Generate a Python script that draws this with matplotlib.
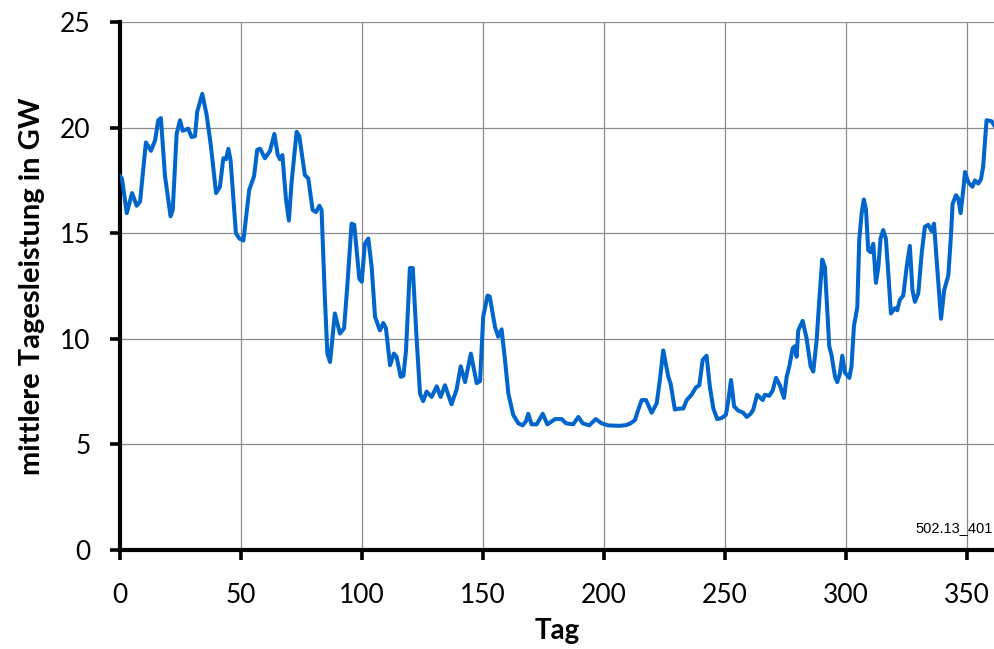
import matplotlib
matplotlib.use("Agg")
import matplotlib.pyplot as plt

# Tag des Jahres und mittlere Tagesleistung in GW
tag = [
    0.0, 0.8, 2.8, 5.0, 6.9, 8.3, 10.7, 12.8, 14.5, 15.8, 16.9, 18.6, 20.9, 21.8,
    23.4, 24.8, 25.9, 28.2, 29.6, 31.0, 31.9, 34.0, 35.8, 37.6, 39.7, 41.3, 42.7,
    43.8, 44.8, 45.7, 47.9, 49.3, 51.0, 53.4, 55.4, 56.7, 57.9, 59.9, 62.0, 63.8,
    65.2, 66.1, 67.1, 68.6, 69.8, 70.9, 73.0, 74.1, 76.4, 77.8, 79.6, 81.0, 82.4,
    83.3, 84.7, 85.7, 86.8, 88.8, 90.9, 92.6, 93.9, 95.7, 96.8, 98.9, 99.9, 101.2,
    102.6, 104.0, 105.4, 107.4, 108.8, 109.9, 111.6, 113.2, 114.3, 116.0, 117.1,
    118.2, 119.8, 121.0, 122.6, 124.0, 125.3, 126.7, 128.8, 130.9, 132.5, 134.3,
    137.0, 139.1, 140.8, 142.6, 145.0, 147.4, 148.8, 150.1, 151.9, 152.8, 155.0,
    156.3, 157.7, 159.1, 160.5, 162.5, 164.6, 166.4, 167.8, 168.7, 170.1, 172.2,
    174.7, 176.6, 179.8, 182.5, 184.3, 187.3, 189.4, 191.2, 193.9, 196.6, 199.0,
    201.8, 206.6, 209.4, 211.0, 212.8, 214.2, 215.6, 217.4, 219.7, 221.8, 223.1,
    224.5, 226.6, 227.5, 229.3, 231.4, 232.8, 234.2, 236.2, 238.0, 239.4, 240.8,
    242.4, 243.8, 245.2, 246.8, 248.6, 250.4, 251.4, 252.5, 253.8, 255.5, 257.6,
    259.0, 260.6, 261.7, 263.3, 265.6, 266.5, 268.3, 269.7, 271.1, 272.7, 274.4,
    275.5, 276.6, 278.0, 279.0, 279.6, 280.3, 282.1, 283.7, 285.4, 286.5, 287.9,
    289.0, 290.2, 291.3, 293.1, 294.0, 295.5, 296.4, 297.5, 298.5, 299.6, 301.4,
    302.3, 303.3, 304.7, 305.5, 306.5, 307.4, 308.3, 309.2, 310.2, 311.3, 312.4,
    313.4, 314.3, 315.4, 316.5, 317.5, 318.6, 320.2, 321.2, 322.3, 323.7, 325.1,
    326.4, 327.5, 328.5, 329.9, 331.3, 332.6, 334.0, 335.4, 336.4, 337.7, 339.3,
    340.6, 342.3, 343.3, 344.1, 345.5, 346.4, 347.4, 348.5, 349.2, 350.6, 352.3,
    353.3, 354.7, 355.8, 356.7, 358.1, 360.2, 361.6,
]
leistung = [
    17.7, 17.6, 15.95, 16.9, 16.3, 16.5, 19.3, 18.9, 19.4, 20.35, 20.45, 17.7, 15.8, 16.1,
    19.7, 20.35, 19.85, 19.95, 19.55, 19.6, 20.75, 21.6, 20.6, 19.1, 16.9, 17.2, 18.55,
    18.5, 19.0, 18.45, 15.0, 14.75, 14.65, 17.05, 17.7, 18.95, 19.0, 18.55, 18.9, 19.7,
    18.7, 18.5, 18.7, 16.6, 15.6, 17.4, 19.8, 19.6, 17.75, 17.6, 16.1, 16.0, 16.3,
    16.1, 11.85, 9.3, 8.9, 11.2, 10.25, 10.5, 12.45, 15.45, 15.4, 12.85, 12.7, 14.5,
    14.75, 13.4, 11.05, 10.4, 10.75, 10.5, 8.75, 9.3, 9.15, 8.2, 8.25,
    9.45, 13.35, 13.35, 9.95, 7.4, 7.05, 7.5, 7.25, 7.75, 7.25, 7.8,
    6.9, 7.6, 8.7, 7.95, 9.3, 7.9, 8.0, 11.05, 12.05, 12.0, 10.55,
    10.1, 10.45, 9.0, 7.4, 6.4, 6.0, 5.9, 6.1, 6.45, 5.95, 5.95,
    6.45, 5.95, 6.2, 6.2, 6.0, 5.95, 6.3, 6.0, 5.9, 6.2, 6.0,
    5.9, 5.88, 5.92, 6.0, 6.15, 6.65, 7.1, 7.1, 6.5, 6.95, 8.05,
    9.45, 8.2, 7.9, 6.65, 6.7, 6.7, 7.1, 7.35, 7.7, 7.8, 9.0,
    9.2, 7.7, 6.7, 6.2, 6.25, 6.4, 7.1, 8.05, 6.8, 6.6, 6.5,
    6.3, 6.45, 6.65, 7.35, 7.1, 7.35, 7.3, 7.55, 8.15, 7.8, 7.2,
    8.2, 8.7, 9.55, 9.65, 9.15, 10.4, 10.85, 10.05, 8.7, 8.45, 9.95,
    11.85, 13.75, 13.4, 9.65, 9.25, 8.2, 7.95, 8.35, 9.2, 8.4, 8.15,
    8.7, 10.6, 11.5, 14.7, 15.95, 16.6, 16.1, 14.2, 14.1, 14.5, 12.65,
    13.4, 14.75, 15.15, 14.75, 13.1, 11.2, 11.45, 11.35, 11.85, 12.05, 13.4,
    14.4, 12.3, 11.75, 12.15, 14.05, 15.3, 15.4, 15.1, 15.45, 13.4, 10.95,
    12.3, 13.0, 14.7, 16.4, 16.8, 16.65, 15.95, 17.05, 17.9, 17.4, 17.2,
    17.5, 17.35, 17.55, 18.15, 20.35, 20.3, 20.05,
]

x_ticks = [0, 50, 100, 150, 200, 250, 300, 350]
y_ticks = [0, 5, 10, 15, 20, 25]

plt.rcParams["font.family"] = ["Lato", "DejaVu Sans"]

fig = plt.figure(figsize=(9.95, 6.49), dpi=100)
ax = fig.add_axes([0.1206, 0.1525, 0.8794, 0.8136])

ax.plot(tag, leistung, color="#0066CC", linewidth=2.9, solid_joinstyle="round", zorder=3)

ax.set_xlim(0, 361.6)
ax.set_ylim(0, 25)
ax.set_xticks(x_ticks)
ax.set_yticks(y_ticks)
ax.grid(True, color="#8c8c8c", linewidth=0.9)
ax.set_axisbelow(True)

for side in ("top", "right"):
    ax.spines[side].set_visible(False)
for side in ("left", "bottom"):
    ax.spines[side].set_linewidth(3.0)
    ax.spines[side].set_color("black")

ax.tick_params(axis="both", direction="out", length=7, width=2.6, color="black",
               labelsize=19)
ax.tick_params(axis="x", pad=17)
ax.tick_params(axis="y", pad=14)

ax.set_xlabel("Tag", fontsize=20, fontweight="bold", labelpad=7)
ax.set_ylabel("mittlere Tagesleistung in GW", fontsize=21, fontweight="bold", labelpad=11)

ax.text(0.998, 1.05, "502.13_401", transform=ax.get_yaxis_transform(),
        ha="right", va="center", fontsize=10.5, family="Liberation Sans")

fig.savefig("out.png", dpi=100)
